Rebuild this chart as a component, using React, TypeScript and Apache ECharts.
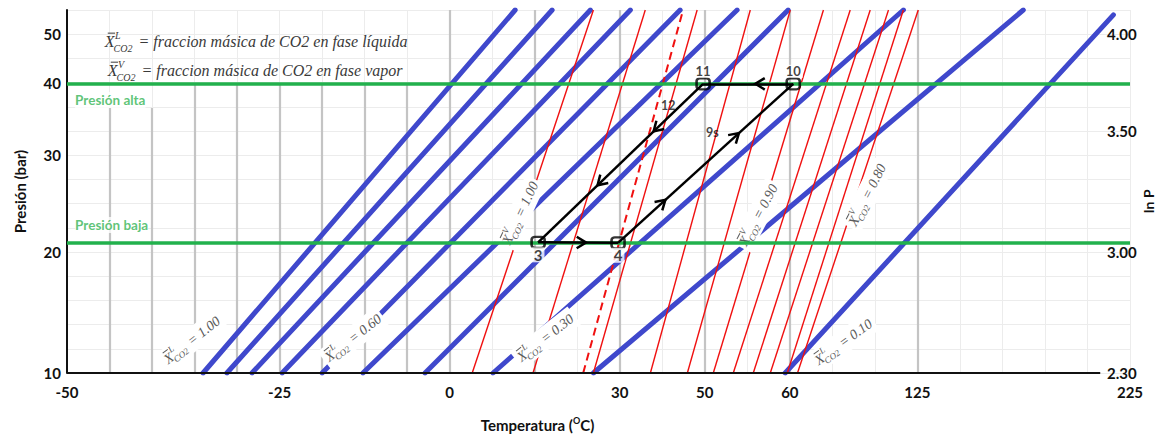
import React, { useEffect, useRef } from 'react';
import * as echarts from 'echarts';

// ---- axes (grid units: x 0..25, y 0..15) ----
const xTickPos = [0, 5, 9, 13, 15, 17, 20, 25];
const xTickLabels = ['-50', '-25', '0', '30', '50', '60', '125', '225'];
const pTickPos = [0, 5, 9, 12, 14];
const pTickLabels = ['10', '20', '30', '40', '50'];
const lnPTickPos = [0, 5, 10, 14];
const lnPTickLabels = ['2.30', '3.00', '3.50', '4.00'];
const xAxisEnd = 24.3;
const rightTitle = 'ln P';
const rightTitlePos = [25.43, 7.1];

// ---- liquid isolines (blue) ----
const blueStartX = [3.2, 3.76, 4.35, 5.06, 6.0, 6.96, 8.42, 10.02, 12.38, 16.89];
const blueEndX = [10.54, 11.41, 12.31, 13.25, 14.42, 15.76, 16.96, 19.67, 22.49, 24.61];
const blueEndY = [15, 15, 15, 15, 15, 15, 15, 15, 15, 14.8];

// ---- vapour isolines (red) ----
const redStartX = [9.53, 10.96, 12.38, 13.72, 14.59, 15.2, 15.67, 16.14, 16.54, 16.94, 17.18];
const redEndX = [12.38, 13.6, 14.82, 16.07, 17.01, 17.79, 18.42, 18.89, 19.32, 19.67, 20.02];
const redDashStartX = [12.14];
const redDashEndX = [14.49];

// ---- dark grey verticals ----
const greyX = [1, 2, 3, 4, 5, 6, 7, 8, 9, 11, 13, 15, 17, 20];
const greyTop = [10.95, 10.95, 11.95, 11.95, 11.95, 11.95, 11.95, 11.95, 15, 15, 15, 15, 15, 15];

// ---- pressure levels ----
const pressureNames = ['Presión alta', 'Presión baja'];
const pressureY = [11.95, 5.38];

// ---- cycle ----
const cycleNames = ['3', '4', '10', '11'];
const cycleX = [11.08, 12.96, 17.08, 14.96];
const cycleY = [5.4, 5.38, 11.95, 11.95];
const arrowFractions = [[0.6], [0.27, 0.69], [0.42], [0.3, 0.64]];
const extraNames = ['12', '9s'];
const extraX = [14.14, 15.18];
const extraY = [11.07, 9.92];

// ---- isoline labels ----
const isoPhase = ['L', 'L', 'L', 'L', 'V', 'V', 'V'];
const isoValue = ['1.00', '0.60', '0.30', '0.10', '1.00', '0.90', '0.80'];
const isoX = [2.94, 6.73, 11.25, 18.26, 10.66, 16.26, 18.82];
const isoY = [1.36, 1.45, 1.45, 1.28, 6.61, 6.53, 7.36];
const isoAngle = [38, 38, 38, 36, 65, 62, 63];

const defPhase = ['L', 'V'];
const defText = [' = fraccion másica de CO2 en fase líquida', ' = fraccion másica de CO2 en fase vapor'];
const defX = [0.89, 0.96];
const defY = [13.68, 12.48];

const SANS = 'Lato, "Open Sans", sans-serif';
const SERIF = '"Liberation Serif", "DejaVu Serif", serif';

let _ctx: CanvasRenderingContext2D | null = null;
function measure(text: string, font: string) {
  if (!_ctx) _ctx = document.createElement('canvas').getContext('2d');
  _ctx!.font = font;
  return _ctx!.measureText(text).width;
}

function mathChildren(phase: string, rest: string, base: number, color: string, centered: boolean, bg: boolean) {
  const fMain = `italic ${base}px ${SERIF}`;
  const small = Math.round(base * 0.62);
  const fSmall = `italic ${small}px ${SERIF}`;
  const wX = measure('X', fMain);
  const wSub = measure('CO2', fSmall);
  const wSup = measure(phase, fSmall);
  const wRest = measure(rest, fMain);
  const total = wX + Math.max(wSub, wSup) + 1 + wRest;
  const x0 = centered ? -total / 2 : 0;
  const ch: any[] = [];
  if (bg) {
    ch.push({ type: 'rect', shape: { x: x0 - 3, y: -base * 0.8, width: total + 6, height: base * 1.6 }, style: { fill: '#fff' } });
  }
  ch.push({ type: 'text', x: x0, y: 0, style: { text: 'X', font: fMain, fill: color, align: 'left', verticalAlign: 'middle' } });
  ch.push({ type: 'line', shape: { x1: x0 + wX * 0.3, y1: -base * 0.55, x2: x0 + wX * 1.05, y2: -base * 0.55 }, style: { stroke: color, lineWidth: 1 } });
  ch.push({ type: 'text', x: x0 + wX + 0.5, y: -base * 0.42, style: { text: phase, font: fSmall, fill: color, align: 'left', verticalAlign: 'middle', lineHeight: small } });
  ch.push({ type: 'text', x: x0 + wX - 1, y: base * 0.38, style: { text: 'CO2', font: fSmall, fill: color, align: 'left', verticalAlign: 'middle', lineHeight: small } });
  ch.push({ type: 'text', x: x0 + wX + Math.max(wSub, wSup) + 1, y: 0, style: { text: rest, font: fMain, fill: color, align: 'left', verticalAlign: 'middle' } });
  return ch;
}

function buildOption() {
  const seg = (x0: number, y0: number, x1: number, y1: number) => ({ coords: [[x0, y0], [x1, y1]] });

  const blue = blueStartX.map((x, i) => seg(x, 0, blueEndX[i], blueEndY[i]));
  const red = redStartX.map((x, i) => seg(x, 0, redEndX[i], 15));
  const redDash = redDashStartX.map((x, i) => seg(x, 0, redDashEndX[i], 15));
  const grey = greyX.map((x, i) => seg(x, 0, x, greyTop[i]));
  const green = pressureY.map((y) => seg(0, y, 25, y));

  const legs: any[] = [];
  const arrows: number[][] = [];
  for (let k = 0; k < 4; k++) {
    const a = k, b = (k + 1) % 4;
    legs.push(seg(cycleX[a], cycleY[a], cycleX[b], cycleY[b]));
    arrowFractions[k].forEach((f) => {
      arrows.push([
        cycleX[a] + f * (cycleX[b] - cycleX[a]),
        cycleY[a] + f * (cycleY[b] - cycleY[a]),
        cycleX[b],
        cycleY[b],
      ]);
    });
  }

  const labelPts: any[] = [];
  cycleNames.forEach((n, i) => {
    const below = i < 2;
    labelPts.push({
      value: [cycleX[i], cycleY[i]],
      label: {
        show: true,
        formatter: n,
        position: below ? 'bottom' : 'top',
        distance: below ? 5 : 6,
        fontFamily: SANS,
        fontWeight: 'bold',
        fontSize: below ? 15 : 13,
        color: '#111',
        backgroundColor: '#fff',
        padding: [0, 2],
      },
    });
  });
  extraNames.forEach((n, i) => {
    labelPts.push({
      value: [extraX[i], extraY[i]],
      label: { show: true, formatter: n, position: 'inside', fontFamily: SANS, fontWeight: 'bold', fontSize: 12.5, color: '#111' },
    });
  });
  pressureNames.forEach((n, i) => {
    labelPts.push({
      value: [0.19, pressureY[i] - (i === 0 ? 0.67 : -0.74)],
      label: {
        show: true, formatter: n, position: 'right', distance: 0, fontFamily: SANS, fontWeight: 'bold', fontSize: 13.5,
        color: '#35b556', backgroundColor: '#fff', padding: [1, 0],
      },
    });
  });

  const tickMap = (pos: number[], labels: string[]) => (v: number) => {
    const i = pos.findIndex((p) => Math.abs(p - v) < 1e-6);
    return i >= 0 ? labels[i] : '';
  };

  const axisFont = { fontFamily: SANS, fontWeight: 'bold' as const, fontSize: 15, color: '#111' };

  return {
    animation: false,
    backgroundColor: '#fff',
    textStyle: { fontFamily: SANS },
    grid: { left: 67, right: 27, top: 10, bottom: 64, containLabel: false, outerBoundsMode: 'none' },
    xAxis: {
      type: 'value', min: 0, max: 25, interval: 1,
      axisLine: { show: false },
      axisTick: { show: false },
      splitLine: { show: true, lineStyle: { color: '#ececec', width: 1 } },
      axisLabel: { ...axisFont, margin: 11, formatter: tickMap(xTickPos, xTickLabels), showMinLabel: true, showMaxLabel: true },
      name: 'Temperatura ({s|O}C)',
      nameLocation: 'middle',
      nameGap: 43,
      nameTextStyle: {
        fontFamily: SANS, fontWeight: 'bold', fontSize: 15, color: '#111', padding: [0, 122, 0, 0],
        rich: { s: { fontFamily: SANS, fontWeight: 'bold', fontSize: 9, color: '#111', padding: [0, 0, 8, 0] } },
      },
    },
    yAxis: [
      {
        type: 'value', min: 0, max: 15, interval: 1, position: 'left',
        axisLine: { show: true, onZero: false, lineStyle: { color: '#111', width: 2 } },
        axisTick: { show: false },
        splitLine: { show: true, lineStyle: { color: '#ececec', width: 1 } },
        axisLabel: { ...axisFont, margin: 6, formatter: tickMap(pTickPos, pTickLabels), showMinLabel: true, showMaxLabel: true },
        name: 'Presión (bar)', nameLocation: 'middle', nameGap: 40, nameRotate: 90,
        nameTextStyle: { fontFamily: SANS, fontWeight: 'bold', fontSize: 15, color: '#111' },
      },
      {
        type: 'value', min: 0, max: 15, interval: 1, position: 'right',
        axisLine: { show: false }, axisTick: { show: false }, splitLine: { show: false },
        axisLabel: { ...axisFont, margin: -23, formatter: tickMap(lnPTickPos, lnPTickLabels), showMinLabel: true, showMaxLabel: true },
      },
    ],
    series: [
      { type: 'lines', coordinateSystem: 'cartesian2d', z: 1, silent: true, data: grey, lineStyle: { color: '#c4c4c4', width: 2.2, opacity: 1 } },
      { type: 'lines', coordinateSystem: 'cartesian2d', z: 2, silent: true, data: blue, lineStyle: { color: '#3F48CC', width: 5, opacity: 1, cap: 'round' } },
      { type: 'lines', coordinateSystem: 'cartesian2d', z: 2, silent: true, data: red, lineStyle: { color: '#f01010', width: 1.4, opacity: 1 } },
      { type: 'lines', coordinateSystem: 'cartesian2d', z: 2, silent: true, data: redDash, lineStyle: { color: '#f01010', width: 2, opacity: 1, type: [8, 5] } },
      {
        type: 'custom', coordinateSystem: 'cartesian2d', z: 3, silent: true,
        data: isoX.map((x, i) => [x, isoY[i]]),
        renderItem: (params: any, api: any) => {
          const i = params.dataIndex;
          const p = api.coord([api.value(0), api.value(1)]);
          return {
            type: 'group', x: p[0], y: p[1], rotation: (isoAngle[i] * Math.PI) / 180,
            children: mathChildren(isoPhase[i], ' = ' + isoValue[i], 14, '#5a5a5a', true, true),
          };
        },
      },
      {
        type: 'custom', coordinateSystem: 'cartesian2d', z: 3, silent: true,
        data: defX.map((x, i) => [x, defY[i]]),
        renderItem: (params: any, api: any) => {
          const i = params.dataIndex;
          const p = api.coord([api.value(0), api.value(1)]);
          return { type: 'group', x: p[0], y: p[1], children: mathChildren(defPhase[i], defText[i], 16, '#3a3a3a', false, false) };
        },
      },
      {
        type: 'custom', coordinateSystem: 'cartesian2d', z: 3, silent: true, clip: false,
        data: [rightTitlePos],
        renderItem: (params: any, api: any) => {
          const p = api.coord([api.value(0), api.value(1)]);
          return {
            type: 'text', x: p[0], y: p[1], rotation: Math.PI / 2,
            style: { text: rightTitle, font: `bold 14px ${SANS}`, fill: '#111', align: 'center', verticalAlign: 'middle' },
          };
        },
      },
      { type: 'lines', coordinateSystem: 'cartesian2d', z: 4, silent: true, data: green, lineStyle: { color: '#22B14C', width: 3.5, opacity: 1 } },
      { type: 'lines', coordinateSystem: 'cartesian2d', z: 4, silent: true, data: [seg(0, 0, xAxisEnd, 0)], lineStyle: { color: '#111', width: 2, opacity: 1 } },
      { type: 'lines', coordinateSystem: 'cartesian2d', z: 5, silent: true, data: legs, lineStyle: { color: '#000', width: 2.5, opacity: 1 } },
      {
        type: 'custom', coordinateSystem: 'cartesian2d', z: 6, silent: true,
        data: arrows,
        encode: { x: [0, 2], y: [1, 3] },
        renderItem: (params: any, api: any) => {
          const p = api.coord([api.value(0), api.value(1)]);
          const q = api.coord([api.value(2), api.value(3)]);
          const a = Math.atan2(q[1] - p[1], q[0] - p[0]);
          const L = 11, s = 0.55;
          const p1 = [p[0] - L * Math.cos(a - s), p[1] - L * Math.sin(a - s)];
          const p2 = [p[0] - L * Math.cos(a + s), p[1] - L * Math.sin(a + s)];
          return { type: 'polyline', shape: { points: [p1, p, p2] }, style: { stroke: '#000', lineWidth: 2.5, fill: 'none' } };
        },
      },
      {
        type: 'scatter', z: 7, silent: true, symbol: 'roundRect', symbolSize: [13, 11],
        itemStyle: { color: 'rgba(0,0,0,0)', borderColor: '#000', borderWidth: 2.4 },
        data: cycleX.map((x, i) => [x, cycleY[i]]),
      },
      { type: 'scatter', z: 8, silent: true, symbolSize: 0, data: labelPts },
    ],
  };
}

export default function App() {
  const ref = useRef<HTMLDivElement>(null);
  useEffect(() => {
    const chart = echarts.init(ref.current!, null, { renderer: 'svg' });
    chart.setOption(buildOption() as any);
    return () => chart.dispose();
  }, []);
  return <div ref={ref} style={{ position: 'fixed', left: 0, top: 0, width: 1157, height: 437, background: '#fff' }} />;
}
